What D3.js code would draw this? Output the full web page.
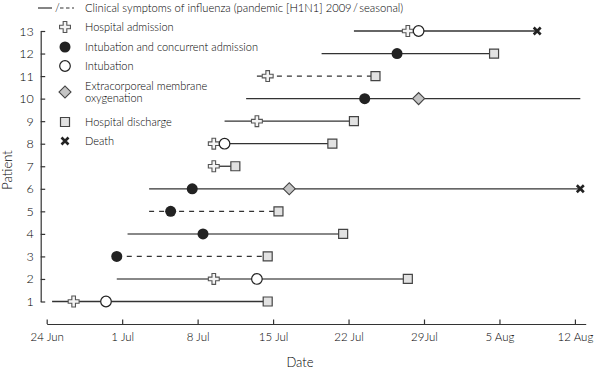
<!DOCTYPE html>
<html>
<head>
<meta charset="utf-8">
<script src="https://cdn.jsdelivr.net/npm/d3@7"></script>
<style>
  body { margin: 0; background: #fff; }
  svg text { font-family: Lato, "Open Sans", sans-serif; font-weight: 300; fill: #000; }
</style>
</head>
<body>
<div id="chart"></div>
<script>
// Patients 1..13, dates in 2009 (null = no such event)
const patients = [1, 2, 3, 4, 5, 6, 7, 8, 9, 10, 11, 12, 13];
const onset = ["06-24", "06-30", "06-30", "07-01", "07-03", "07-03", "07-09", "07-09", "07-10", "07-12", "07-13", "07-19", "07-22"];
const lastDay = ["07-14", "07-27", "07-14", "07-21", "07-15", "08-12", "07-11", "07-20", "07-22", "08-12", "07-24", "08-04", "08-08"];
const seasonal = [false, false, true, false, true, false, false, false, false, false, true, false, false];
const admission = ["06-26", "07-09", null, null, null, null, "07-09", "07-09", "07-13", null, "07-14", null, "07-27"];
const intubAdmission = [null, null, "06-30", "07-08", "07-05", "07-07", null, null, null, "07-23", null, "07-26", null];
const intubation = ["06-29", "07-13", null, null, null, null, null, "07-10", null, null, null, null, "07-28"];
const ecmo = [null, null, null, null, null, "07-16", null, null, null, "07-28", null, null, null];
const discharge = ["07-14", "07-27", "07-14", "07-21", "07-15", null, "07-11", "07-20", "07-22", null, "07-24", "08-04", null];
const death = [null, null, null, null, null, "08-12", null, null, null, null, null, null, "08-08"];

const tickDates = ["06-24", "07-01", "07-08", "07-15", "07-22", "07-29", "08-05", "08-12"];
const tickLabels = ["24 Jun", "1 Jul", "8 Jul", "15 Jul", "22 Jul", "29Jul", "5 Aug", "12 Aug"];

const legendTitle = "Clinical symptoms of influenza (pandemic [H1N1] 2009\u2009/\u2009seasonal)";
const legendItems = [
  ["cross", ["Hospital admission"]],
  ["dot", ["Intubation and concurrent admission"]],
  ["circle", ["Intubation"]],
  ["diamond", ["Extracorporeal membrane", "oxygenation"]],
  ["square", ["Hospital discharge"]],
  ["x", ["Death"]]
];

const width = 600, height = 376;
const parse = d3.timeParse("%Y-%m-%d");
const day = s => parse("2009-" + s);
const mid = s => d3.timeHour.offset(day(s), 12);

const svg = d3.select("#chart").append("svg")
  .attr("width", width).attr("height", height);

const x = d3.scaleTime()
  .domain([day("06-24"), day("08-13")])
  .range([46.7, 585.7]);
const y = d3.scaleLinear().domain([1, 13]).range([301.5, 31]);

// symbol paths
const shapes = {
  cross: d3.symbol(d3.symbolCross, 66)(),
  square: d3.symbol(d3.symbolSquare, 81)(),
  diamond: d3.symbol(d3.symbolSquare, 72)(),
  x: "M-3.5,-3.5L3.5,3.5M3.5,-3.5L-3.5,3.5"
};
function mark(g, type, cx, cy) {
  if (type === "dot") {
    g.append("circle").attr("cx", cx).attr("cy", cy).attr("r", 5.5).attr("fill", "#222");
  } else if (type === "circle") {
    g.append("circle").attr("cx", cx).attr("cy", cy).attr("r", 5.3)
      .attr("fill", "#fff").attr("stroke", "#222").attr("stroke-width", 1.2);
  } else if (type === "cross") {
    g.append("path").attr("d", shapes.cross).attr("transform", `translate(${cx},${cy})`)
      .attr("fill", "#f4f4f4").attr("stroke", "#555").attr("stroke-width", 1.1);
  } else if (type === "square") {
    g.append("path").attr("d", shapes.square).attr("transform", `translate(${cx},${cy})`)
      .attr("fill", "#e2e2e2").attr("stroke", "#444").attr("stroke-width", 1.2);
  } else if (type === "diamond") {
    g.append("path").attr("d", shapes.diamond).attr("transform", `translate(${cx},${cy}) rotate(45)`)
      .attr("fill", "#c4c4c4").attr("stroke", "#444").attr("stroke-width", 1.1);
  } else if (type === "x") {
    g.append("path").attr("d", shapes.x).attr("transform", `translate(${cx},${cy})`)
      .attr("fill", "none").attr("stroke", "#222").attr("stroke-width", 2.6);
  }
}

// axes
const yAxis = svg.append("g")
  .attr("transform", "translate(40.7,0)")
  .call(d3.axisLeft(y).tickValues(patients).tickSize(-4.5).tickSizeOuter(0).tickPadding(7));
yAxis.selectAll("text").attr("font-size", 12.5);

const xAxis = svg.append("g")
  .attr("transform", "translate(0,324)")
  .call(d3.axisBottom(x).tickValues(tickDates.map(day)).tickSize(-4.5).tickSizeOuter(0)
    .tickPadding(9).tickFormat((d, i) => tickLabels[i]));
xAxis.selectAll("text").attr("font-size", 11.5);
svg.selectAll(".domain, .tick line").attr("stroke", "#333").attr("stroke-width", 1.2);

svg.append("text").attr("x", 300).attr("y", 367).attr("text-anchor", "middle")
  .attr("font-size", 13).text("Date");
svg.append("text").attr("transform", "translate(12,170) rotate(-90)")
  .attr("text-anchor", "middle").attr("font-size", 13).text("Patient");

// patient rows
const grayRows = [2, 4];
const rows = svg.append("g");
patients.forEach((p, i) => {
  const cy = y(p);
  const gray = grayRows.includes(p);
  rows.append("line")
    .attr("x1", x(mid(onset[i]))).attr("x2", x(mid(lastDay[i])))
    .attr("y1", cy).attr("y2", cy)
    .attr("stroke", gray ? "#888" : "#333")
    .attr("stroke-width", gray ? 2 : 1.3)
    .attr("stroke-dasharray", seasonal[i] ? "5,5" : null);
  if (ecmo[i]) mark(rows, "diamond", x(mid(ecmo[i])), cy);
  if (discharge[i]) mark(rows, "square", x(mid(discharge[i])), cy);
  if (death[i]) mark(rows, "x", x(mid(death[i])), cy);
  if (admission[i]) mark(rows, "cross", x(mid(admission[i])), cy);
  if (intubAdmission[i]) mark(rows, "dot", x(mid(intubAdmission[i])), cy);
  if (intubation[i]) mark(rows, "circle", x(mid(intubation[i])), cy);
});

// legend
const lg = svg.append("g");
lg.append("line").attr("x1", 38).attr("x2", 52).attr("y1", 8).attr("y2", 8)
  .attr("stroke", "#333").attr("stroke-width", 1.2);
lg.append("text").attr("x", 55).attr("y", 11.5).attr("font-size", 11).text("/");
lg.append("line").attr("x1", 60).attr("x2", 74).attr("y1", 8).attr("y2", 8)
  .attr("stroke", "#333").attr("stroke-width", 1.2).attr("stroke-dasharray", "3.5,2.5");
lg.append("text").attr("x", 85).attr("y", 11.5).attr("font-size", 11.2).text(legendTitle);

const legendY = [27, 47, 66, 92, 122, 141];
legendItems.forEach(([type, lines], i) => {
  const cy = legendY[i];
  mark(lg, type, 65, cy);
  const t = lg.append("text").attr("x", 85).attr("font-size", 11);
  lines.forEach((s, j) => {
    t.append("tspan").attr("x", 85)
      .attr("y", cy + 3.5 - (lines.length - 1) * 6 + j * 12).text(s);
  });
});
</script>
</body>
</html>
